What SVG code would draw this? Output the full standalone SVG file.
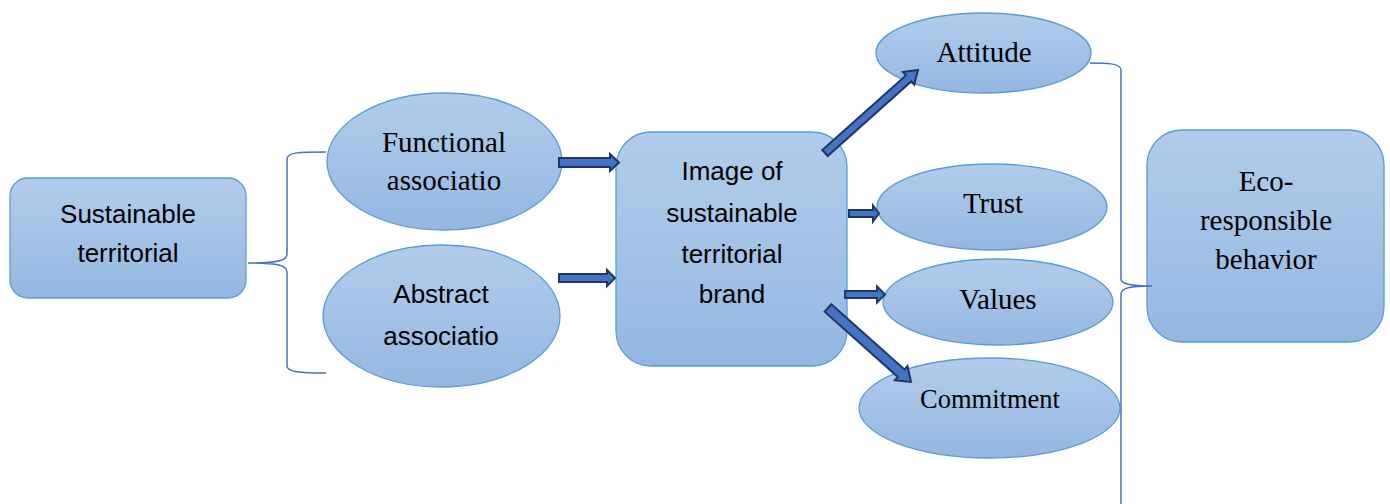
<svg xmlns="http://www.w3.org/2000/svg" width="1390" height="504" viewBox="0 0 1390 504">
<defs>
<linearGradient id="g" x1="0" y1="0" x2="0" y2="1">
<stop offset="0" stop-color="#b2cdeb"/>
<stop offset="1" stop-color="#94b7e2"/>
</linearGradient>
<style>
.n{fill:url(#g);stroke:#5b9bd5;stroke-width:1.3}
.s{font-family:"Liberation Sans",Arial,sans-serif;font-size:26px;fill:#000;text-anchor:middle}
.r{font-family:"Liberation Serif","Times New Roman",serif;font-size:29px;fill:#000;text-anchor:middle}
.a{fill:#4472c4;stroke:#1f3763;stroke-width:2;stroke-linejoin:miter}
.b{fill:none;stroke:#4472c4;stroke-width:1.5}
</style>
</defs>
<rect width="1390" height="504" fill="#fff"/>
<g id="sustainable-territorial">
<rect class="n" x="10" y="178" width="236" height="120" rx="18"/>
<text class="s" x="128" y="223">Sustainable</text>
<text class="s" x="128" y="262">territorial</text>
</g>
<g id="functional">
<ellipse class="n" cx="444.5" cy="161.5" rx="117.5" ry="68.5"/>
<text class="r" x="444" y="152">Functional</text>
<text class="r" x="444" y="190">associatio</text>
</g>
<g id="abstract">
<ellipse class="n" cx="441.5" cy="316" rx="118.5" ry="71"/>
<text class="s" x="441" y="303">Abstract</text>
<text class="s" x="441" y="345">associatio</text>
</g>
<g id="image">
<rect class="n" x="616" y="132" width="231" height="234" rx="35"/>
<text class="s" x="732" y="180">Image of</text>
<text class="s" x="732" y="222">sustainable</text>
<text class="s" x="732" y="263">territorial</text>
<text class="s" x="732" y="303">brand</text>
</g>
<g id="attitude">
<ellipse class="n" cx="983.5" cy="53" rx="107.5" ry="40"/>
<text class="r" x="984" y="62">Attitude</text>
</g>
<g id="trust">
<ellipse class="n" cx="992" cy="207" rx="115" ry="43"/>
<text class="r" x="993" y="213">Trust</text>
</g>
<g id="values">
<ellipse class="n" cx="998" cy="302" rx="115" ry="43"/>
<text class="r" x="998" y="309">Values</text>
</g>
<g id="commitment">
<ellipse class="n" cx="989.5" cy="408" rx="130.5" ry="50"/>
<text class="r" x="990" y="408" style="font-size:26.5px">Commitment</text>
</g>
<g id="eco">
<rect class="n" x="1147" y="130" width="237" height="212" rx="35"/>
<text class="r" x="1266" y="191">Eco-</text>
<text class="r" x="1266" y="230">responsible</text>
<text class="r" x="1266" y="269">behavior</text>
</g>
<g id="connectors">
<path class="b" d="M326,152 C300,152 287,152 287,159 L287,254 C287,260 280,263 248,263 C280,263 287,266 287,272 L287,366 C287,372 300,373 326,373"/>
<path class="b" d="M1090,63 C1105,63 1121,63 1121,70 L1121,279 C1121,284 1130,286 1152,286 C1130,286 1121,288 1121,294 L1121,504"/>
<polygon class="a" points="559,158 610,158 610,154 619,162.5 610,171 610,167 559,167"/>
<polygon class="a" points="559,274 607,274 607,270 615,278 607,286 607,282 559,282"/>
<polygon class="a" points="849,210 873,210 873,205.5 879,213.5 873,221.5 873,217 849,217"/>
<polygon class="a" points="845,291 877,291 877,286.5 885,294.5 877,302.5 877,298 845,298"/>
<polygon class="a" transform="translate(825,153) rotate(-41.75)" points="0,-4 112,-4 112,-8.5 124.7,0 112,8.5 112,4 0,4"/>
<polygon class="a" transform="translate(828,308) rotate(41.7)" points="0,-5 98,-5 98,-9.5 111.2,0 98,9.5 98,5 0,5"/>
</g>
</svg>
